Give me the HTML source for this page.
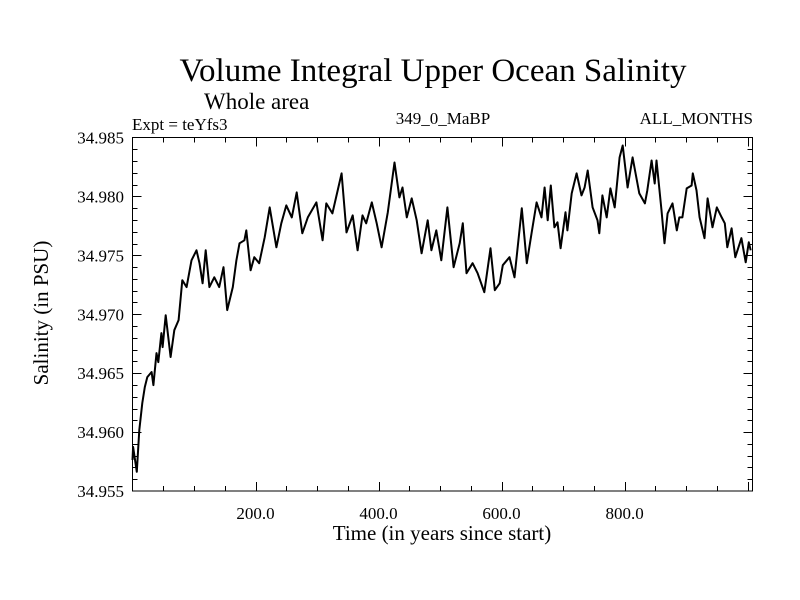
<!DOCTYPE html>
<html><head><meta charset="utf-8"><style>
body{margin:0;background:#fff;}
svg{display:block;font-family:"Liberation Serif",serif;}
</style></head><body>
<svg id="chart" width="800" height="600">
<text x="433" y="81" font-size="33" text-anchor="middle">Volume Integral Upper Ocean Salinity</text>
<text x="204" y="109" font-size="23">Whole area</text>
<text x="132" y="130" font-size="17">Expt = teYfs3</text>
<text x="443" y="124" font-size="17" text-anchor="middle">349_0_MaBP</text>
<text x="753" y="124" font-size="17" text-anchor="end">ALL_MONTHS</text>
<text x="442" y="540" font-size="21" text-anchor="middle">Time (in years since start)</text>
<text transform="translate(48,313) rotate(-90)" font-size="21" text-anchor="middle">Salinity (in PSU)</text>
<g id="axes"></g>
<path id="line" fill="none" stroke="#000" stroke-width="2" stroke-linejoin="round"></path>
<rect x="132.5" y="137.5" width="620" height="353.5" fill="none" stroke="#000" stroke-width="1"></rect>
</svg>
<script>
const years=[0,1,7,11,16,20,24,31,34,39,42,47,49,54,62,68,75,81,88,96,104,109,114,119,125,133,141,148,154,163,169,174,182,185,192,198,206,215,223,234,242,250,259,267,276,285,299,309,315,325,340,348,358,366,374,380,389,397,405,415,426,434,439,446,454,462,470,480,486,494,502,512,522,532,537,543,553,561,572,582,589,597,602,613,621,633,641,649,657,665,670,675,680,686,691,696,704,707,714,722,730,735,740,748,756,759,764,771,777,784,792,797,805,813,824,833,837,844,849,852,860,865,870,878,885,889,894,901,909,911,917,922,930,935,943,950,958,963,967,974,980,990,997,1002,1005];
const salinity=[34.95763,34.95874,34.95663,34.96018,34.96247,34.96382,34.96467,34.9651,34.96399,34.9667,34.96594,34.9684,34.96721,34.96992,34.96637,34.96865,34.9695,34.97289,34.9723,34.97458,34.97543,34.97433,34.97263,34.97543,34.9723,34.97314,34.9723,34.97399,34.97035,34.9723,34.97458,34.97602,34.97628,34.97712,34.97373,34.97484,34.97433,34.97653,34.97907,34.97568,34.97772,34.97924,34.97822,34.98034,34.97687,34.97822,34.97949,34.97628,34.97941,34.97856,34.98195,34.97695,34.97839,34.97543,34.97839,34.97772,34.97949,34.97772,34.97568,34.97865,34.98288,34.97992,34.98076,34.97822,34.97983,34.97797,34.97517,34.97797,34.97543,34.97712,34.97458,34.97907,34.97399,34.97602,34.97772,34.97348,34.97433,34.97348,34.97187,34.9756,34.97204,34.97263,34.97416,34.97484,34.97314,34.97899,34.97433,34.97695,34.97949,34.97822,34.98076,34.97797,34.98093,34.97738,34.9778,34.9756,34.97865,34.97712,34.98026,34.98195,34.98009,34.98076,34.9822,34.97907,34.97797,34.97687,34.98009,34.97822,34.98068,34.97907,34.98331,34.98432,34.98076,34.98331,34.98026,34.97941,34.98051,34.98305,34.9811,34.98305,34.97882,34.97602,34.97856,34.97941,34.97712,34.97822,34.97822,34.98068,34.98093,34.98195,34.98051,34.97822,34.97645,34.97983,34.97738,34.97907,34.97822,34.97772,34.97568,34.97729,34.97484,34.97645,34.97441,34.97611,34.97543];
const xTickValues=[200,400,600,800];
const xTickLabels=["200.0","400.0","600.0","800.0"];
const yTickValues=[34.955,34.960,34.965,34.970,34.975,34.980,34.985];
const yTickLabels=["34.955","34.960","34.965","34.970","34.975","34.980","34.985"];

const L=132.5,R=752.5,T=137.5,B=491,XMIN=0,XMAX=1008,YMIN=34.955,YMAX=34.985;
const sx=v=>L+(v-XMIN)/(XMAX-XMIN)*(R-L);
const sy=v=>B-(v-YMIN)/(YMAX-YMIN)*(B-T);
const NS="http://www.w3.org/2000/svg";
const axes=document.getElementById('axes');
function ln(x1,y1,x2,y2,name){
  const e=document.createElementNS(NS,'line');
  e.setAttribute('x1',x1);e.setAttribute('y1',y1);e.setAttribute('x2',x2);e.setAttribute('y2',y2);
  e.setAttribute('stroke','#000');e.setAttribute('stroke-width','1');
  
  
  axes.appendChild(e);
}
function tx(x,y,s,anchor,name){
  const e=document.createElementNS(NS,'text');
  e.setAttribute('x',x);e.setAttribute('y',y);e.setAttribute('font-size','17');e.setAttribute('text-anchor',anchor);
  e.textContent=s;
  
  
  axes.appendChild(e);
}
for(let v=50;v<XMAX;v+=50){
  const x=Math.round(sx(v))+0.5, major=v%200===0, len=major?9:5;
  ln(x,B,x,B-len,'x-tick');
  ln(x,T,x,T+len,'x-tick-top');
}
for(let i=0;i<=30;i++){
  const v=YMIN+i*0.001, y=Math.round(sy(v))+0.5, major=i%5===0, len=major?9:5;
  if(i>0&&i<30){ln(L,y,L+len,y,'y-tick');ln(R,y,R-len,y,'y-tick-right');}
}
xTickValues.forEach((v,i)=>tx(sx(v),519,xTickLabels[i],'middle','x-tick-label'));
yTickValues.forEach((v,i)=>tx(124,sy(v)+6,yTickLabels[i],'end','y-tick-label'));
document.getElementById('line').setAttribute('d',years.map((y,i)=>(i?'L':'M')+sx(y).toFixed(1)+','+sy(salinity[i]).toFixed(1)).join(''));
</script>
</body></html>
